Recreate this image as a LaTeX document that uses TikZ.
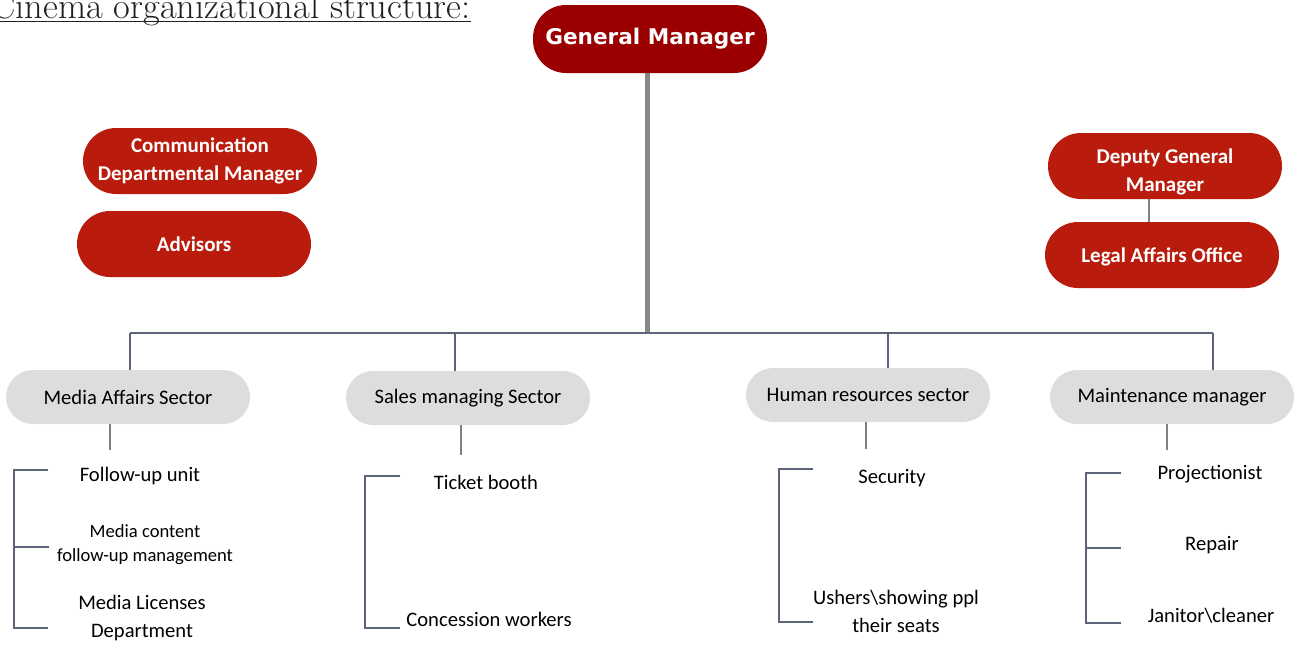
\documentclass[tikz,border=0pt]{standalone}
\usepackage{fontspec}
\newfontfamily\cfont{Carlito}
\newfontfamily\gmfont{DejaVu Sans}
\usetikzlibrary{positioning}

\definecolor{gmred}{RGB}{155,0,0}
\definecolor{boxred}{RGB}{185,27,12}
\definecolor{pillgray}{RGB}{221,221,221}
\definecolor{treeline}{RGB}{92,101,119}
\definecolor{titlegray}{RGB}{35,31,32}
\definecolor{stemgray}{RGB}{135,135,135}

\begin{document}
\begin{tikzpicture}[x=0.5pt,y=-0.5pt,
  gmbox/.style={fill=gmred, text=white, font=\gmfont\bfseries\fontsize{10.8}{13}\selectfont,
    rounded corners=16.5pt, minimum width=117pt, minimum height=34pt, inner sep=0pt},
  redbox/.style={fill=boxred, text=white, font=\cfont\bfseries\fontsize{10.5}{13.8}\selectfont,
    rounded corners=16.5pt, minimum width=117pt, minimum height=33pt, inner sep=0pt, align=center},
  sector/.style={fill=pillgray, font=\cfont\fontsize{10.3}{12}\selectfont,
    rounded corners=13.5pt, minimum width=122pt, minimum height=27pt, inner sep=0pt},
  unit/.style={font=\cfont\fontsize{10.3}{14}\selectfont, align=center, inner sep=0pt},
  tree/.style={draw=treeline, line width=0.75pt},
  stub/.style={draw=gray, line width=0.6pt},
  stemline/.style={draw=stemgray, line width=2.5pt}]

\useasboundingbox (0,0) rectangle (1294,644);

% Title
\node[anchor=base east, inner sep=0pt, text=titlegray,
  font=\fontsize{18.2}{20}\selectfont] (title) at (471,18) {Cinema organizational structure:};
\draw[titlegray, line width=0.65pt] ([yshift=-1.6pt]title.base west) -- ([yshift=-1.6pt]title.base east);

% Nodes
\node[gmbox] (gm) at (650,39) {General Manager};
\node[redbox] (comm) at (200,161) {Communication\\Departmental Manager};
\node[redbox] (adv) at (194,244) {Advisors};
\node[redbox] (deputy) at (1165,166) {\rule{0pt}{13pt}Deputy General\\Manager};
\node[redbox] (legal) at (1162,255) {\rule{0pt}{9pt}Legal Affairs Office};

\node[sector] (media) at (128,397) {Media Affairs Sector};
\node[sector] (sales) at (468,398) {Sales managing Sector};
\node[sector] (hr) at (868,395) {Human resources sector};
\node[sector] (maint) at (1172,397) {\raisebox{2pt}{Maintenance manager}};

\node[unit] (followup) at (140,476) {Follow-up unit};
\node[unit, font=\cfont\fontsize{9.3}{12}\selectfont] (content) at (145,545) {Media content\\follow-up management};
\node[unit] (licenses) at (142,618) {Media Licenses\\Department};
\node[unit] (ticket) at (486,482) {Ticket booth};
\node[unit] (concession) at (489,619) {Concession workers};
\node[unit] (security) at (892,478) {Security};
\node[unit] (ushers) at (896,611) {Ushers\textbackslash showing ppl\\their seats};
\node[unit] (projection) at (1210,474) {Projectionist};
\node[unit] (repair) at (1212,545) {Repair};
\node[unit] (janitor) at (1211,616) {Janitor\textbackslash cleaner};

% Connect nodes
\coordinate (bus) at (647,333);
\coordinate (d1) at (130,333);
\coordinate (d2) at (455,333);
\coordinate (d3) at (888,333);
\coordinate (d4) at (1213,333);
\draw[stemline] (gm.south -| bus) -- (bus);
\draw[tree] (d1) -- (d4);
\foreach \d/\s in {d1/media,d2/sales,d3/hr,d4/maint}
  \draw[tree] (\d) -- (\d |- \s.north);

\coordinate (dl) at (1149,210);
\draw[stub] (deputy.south -| dl) -- (legal.north -| dl);

% stubs under the sectors
\coordinate (s1) at (110,450);
\coordinate (s2) at (461,455);
\coordinate (s3) at (866,449);
\coordinate (s4) at (1167,450);
\foreach \s/\n in {s1/media,s2/sales,s3/hr,s4/maint}
  \draw[stub] (\n.south -| \s) -- (\s);

% brackets
\coordinate (m1) at (48,470);
\coordinate (m2) at (49,547);
\coordinate (m3) at (48,628);
\draw[tree] (m1) -- ++(-34,0) |- (m3);
\draw[tree] (m2) -- ++(-35,0);

\coordinate (t1) at (400,476);
\coordinate (t2) at (400,628);
\draw[tree] (t1) -- ++(-35,0) |- (t2);

\coordinate (h1) at (813,469);
\coordinate (h2) at (813,622);
\draw[tree] (h1) -- ++(-34,0) |- (h2);

\coordinate (p1) at (1121,473);
\coordinate (p2) at (1121,548);
\coordinate (p3) at (1121,623);
\draw[tree] (p1) -- ++(-35,0) |- (p3);
\draw[tree] (p2) -- ++(-35,0);

\end{tikzpicture}
\end{document}
